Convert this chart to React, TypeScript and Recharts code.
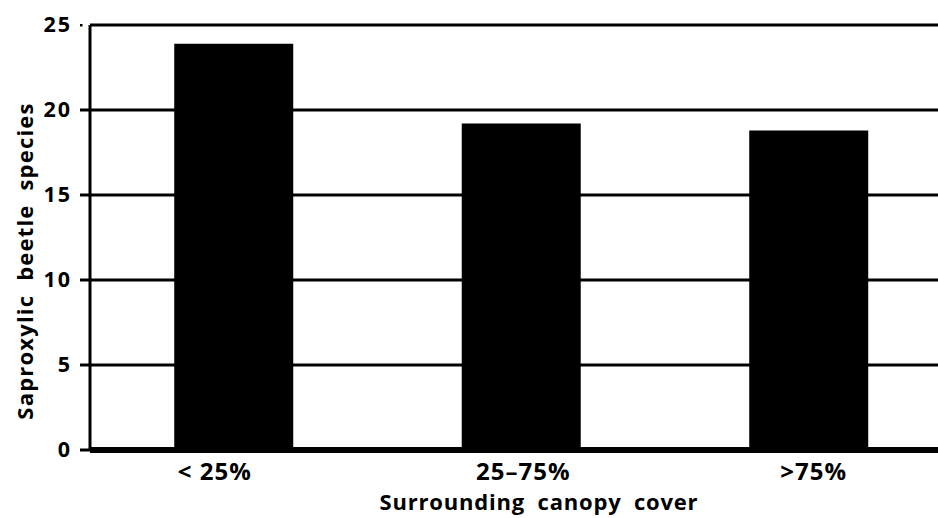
import { BarChart, Bar, XAxis, YAxis, CartesianGrid, Label } from 'recharts'

const categories = ['< 25%', '25–75%', '>75%']
const species = [23.9, 19.2, 18.8]
const yTicks = [0, 5, 10, 15, 20, 25]

const data = categories.map((cover, i) => ({ cover, species: species[i] }))

const FONT = '"Open Sans", "DejaVu Sans", sans-serif'
// small horizontal offsets of the category labels, as printed
const labelNudge = [-19, 2, 5]

function YTick(props: any) {
    const { y, payload } = props
    const v = payload.value
    return (
        <g>
            {v === 25
                ? <rect x={80} y={y - 1} width={2.5} height={2.5} fill="#000" />
                : <line x1={80} x2={90} y1={y} y2={y} stroke="#000" strokeWidth={3} />}
            <text x={72} y={y - 1.5} textAnchor="end" dominantBaseline="central" letterSpacing={2}
                fontFamily={FONT} fontWeight={700} fontSize={21.5} fill="#000">{v}</text>
        </g>
    )
}

function XTick(props: any) {
    const { x, payload, index } = props
    return (
        <text x={x + (labelNudge[index] || 0)} y={480} textAnchor="middle" letterSpacing={1}
            fontFamily={FONT} fontWeight={700} fontSize={24} fill="#000">{payload.value}</text>
    )
}

export default function App() {
    return (
        <div style={{ position: 'fixed', left: 0, top: 0, width: 938, height: 518, overflow: 'hidden', background: '#fff' }}>
            <BarChart
                width={960}
                height={518}
                data={data}
                margin={{ top: 25, right: 7.5, bottom: 0, left: 0 }}
                barCategoryGap="29.3%"
            >
                <CartesianGrid vertical={false} stroke="#000" strokeWidth={3} />
                <XAxis dataKey="cover" height={68} axisLine={{ stroke: '#000', strokeWidth: 6 }}
                    tickLine={false} tick={<XTick />} interval={0}>
                    <Label content={() => (
                        <text x={539} y={510} textAnchor="middle" fontFamily={FONT} fontWeight={700}
                            fontSize={22} letterSpacing={0.8} wordSpacing={6} fill="#000">Surrounding canopy cover</text>
                    )} />
                </XAxis>
                <YAxis domain={[0, 25]} ticks={yTicks} width={90} axisLine={{ stroke: '#000', strokeWidth: 3 }}
                    tickLine={false} tick={<YTick />} interval={0}>
                    <Label content={() => (
                        <text x={23.5} y={261} transform="rotate(-90, 23.5, 261)" textAnchor="middle"
                            dominantBaseline="central" fontFamily={FONT} fontWeight={700} fontSize={22}
                            letterSpacing={1.2} wordSpacing={7} fill="#000">Saproxylic beetle species</text>
                    )} />
                </YAxis>
                <Bar dataKey="species" fill="#000" isAnimationActive={false} />
            </BarChart>
        </div>
    )
}
